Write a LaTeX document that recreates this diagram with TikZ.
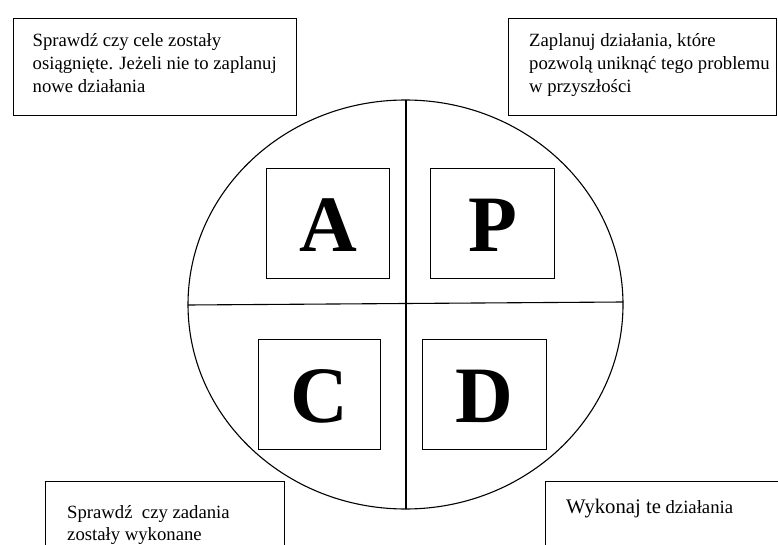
\documentclass[tikz,border=0pt]{standalone}
\usepackage{fontspec}
\setmainfont{Liberation Serif}
\usetikzlibrary{shapes.geometric}
\begin{document}
\begin{tikzpicture}[x=1pt,y=-1pt,
  note/.style={draw,line width=1.3pt,inner sep=0pt,anchor=north west},
  notetext/.style={anchor=base west,inner sep=0pt,font=\fontsize{18.7}{23.2}\selectfont,align=left},
  letterbox/.style={draw,line width=1.2pt,inner sep=0pt,anchor=north west},
  letter/.style={inner sep=0pt,font=\fontsize{80}{80}\selectfont\bfseries}]
\useasboundingbox (0,0) rectangle (778,545);

% cycle disc and its quadrant dividers
\node[draw,ellipse,line width=1.1pt,minimum width=435pt,minimum height=409pt,inner sep=0pt] (disc) at (405.5,304.5) {};
\coordinate (top) at (406,100);
\coordinate (bot) at (406,509);
\coordinate (lft) at (188,305);
\coordinate (rgt) at (623,302);
\draw[line width=1.1pt] (top) -- (bot);
\draw[line width=1.1pt] (lft) -- (rgt);

% letter boxes
\node[letterbox,minimum width=123pt,minimum height=110pt] (boxA) at (266,168) {};
\node[letterbox,minimum width=124pt,minimum height=110pt] (boxP) at (430,168) {};
\node[letterbox,minimum width=122pt,minimum height=110pt] (boxC) at (258,339) {};
\node[letterbox,minimum width=124pt,minimum height=110pt] (boxD) at (422,339) {};
\node[letter] (lA) at ([yshift=-1.5pt]boxA.center) {A};
\node[letter] (lP) at ([yshift=-1.5pt]boxP.center) {P};
\node[letter] (lC) at ([yshift=-1.5pt]boxC.center) {C};
\node[letter] (lD) at ([yshift=-1.5pt]boxD.center) {D};

% description boxes (text nodes are placed by the baseline of their last line)
\node[note,minimum width=283pt,minimum height=97pt] (nA) at (13,18) {};
\node[notetext] (tA) at (32.5,93) {Sprawdź czy cele zostały\\osiągnięte. Jeżeli nie to zaplanuj\\nowe działania};

\node[note,minimum width=268pt,minimum height=97pt] (nP) at (508,18) {};
\node[notetext] (tP) at (529,93) {Zaplanuj działania, które\\pozwolą uniknąć tego problemu\\w przyszłości};

\node[note,minimum width=239pt,minimum height=70pt] (nC) at (45,481) {};
\node[notetext,font=\fontsize{18.7}{22}\selectfont] (tC) at (67,540) {Sprawdź\ \ czy zadania\\zostały wykonane};

\node[note,minimum width=240pt,minimum height=70pt] (nD) at (545,481) {};
\node[notetext] (tD) at (566,513) {{\fontsize{20.7}{22}\selectfont Wykonaj te} działania};
\end{tikzpicture}
\end{document}
